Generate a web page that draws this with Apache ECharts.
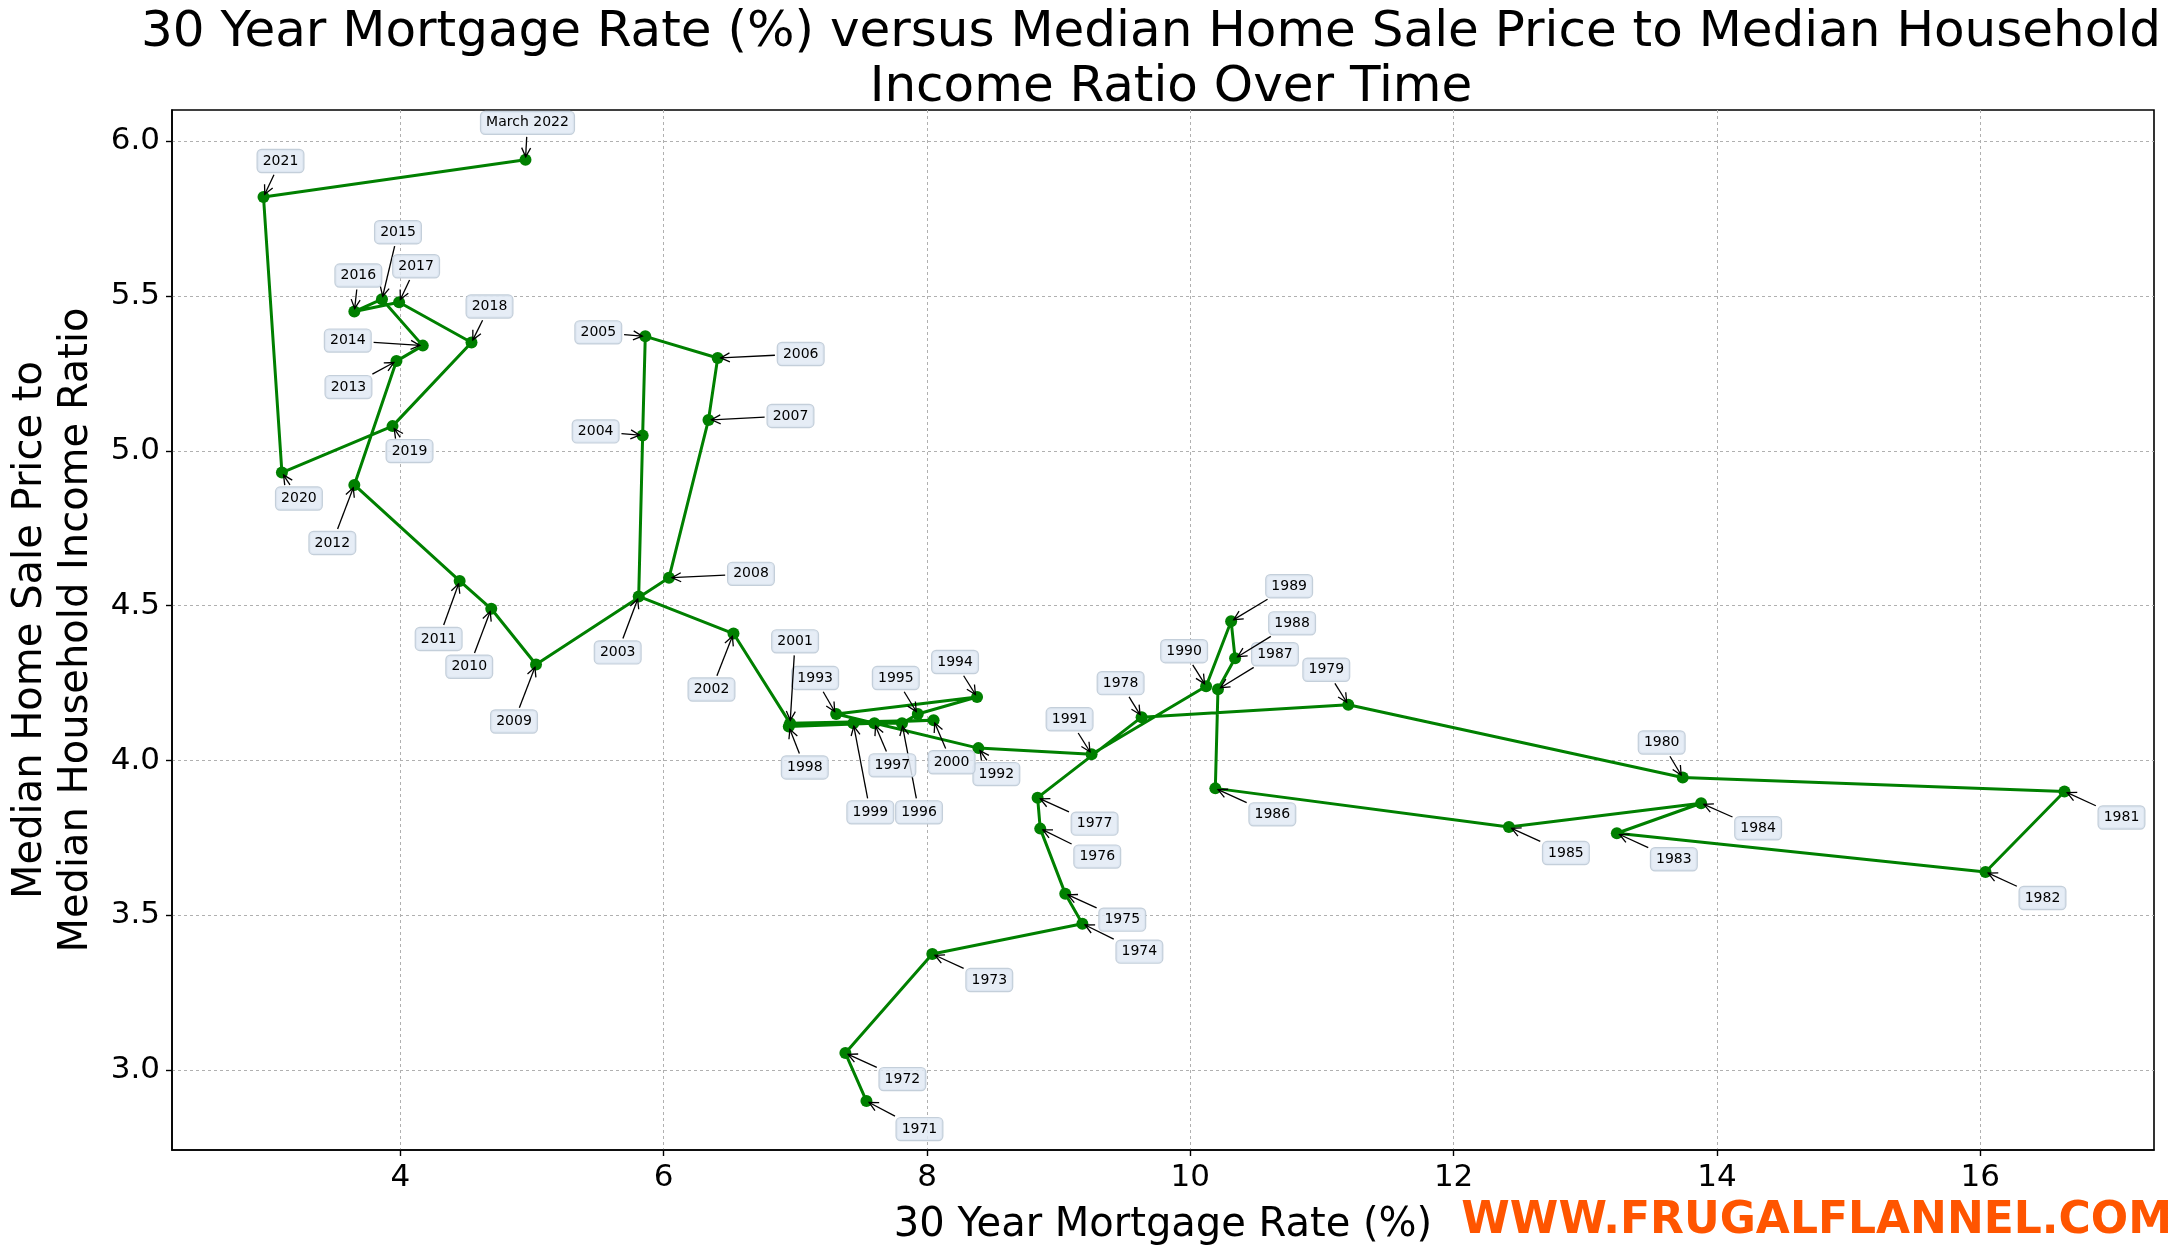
<!DOCTYPE html>
<html>
<head>
<meta charset="utf-8">
<script src="https://cdn.jsdelivr.net/npm/echarts@6/dist/echarts.min.js"></script>
<style>
  html, body { margin: 0; padding: 0; background: #fff; }
  #main { width: 2176px; height: 1248px; }
</style>
</head>
<body>
<div id="main"></div>
<script>
// year labels, in chronological order
var years = ['1971', '1972', '1973', '1974', '1975', '1976', '1977', '1978', '1979', '1980',
  '1981', '1982', '1983', '1984', '1985', '1986', '1987', '1988', '1989', '1990',
  '1991', '1992', '1993', '1994', '1995', '1996', '1997', '1998', '1999', '2000',
  '2001', '2002', '2003', '2004', '2005', '2006', '2007', '2008', '2009', '2010',
  '2011', '2012', '2013', '2014', '2015', '2016', '2017', '2018', '2019', '2020',
  '2021', 'March 2022'];

// 30 year mortgage rate (%)
var rate = [7.54, 7.38, 8.04, 9.18, 9.05, 8.86, 8.84, 9.63, 11.20, 13.74,
  16.64, 16.04, 13.24, 13.88, 12.42, 10.19, 10.21, 10.34, 10.31, 10.12,
  9.25, 8.39, 7.31, 8.38, 7.93, 7.81, 7.60, 6.95, 7.44, 8.05,
  6.96, 6.53, 5.81, 5.84, 5.86, 6.41, 6.34, 6.04, 5.03, 4.69,
  4.45, 3.65, 3.97, 4.17, 3.86, 3.65, 3.99, 4.54, 3.94, 3.10,
  2.96, 4.95];

// median home sale price / median household income
var ratio = [2.90, 3.055, 3.375, 3.473, 3.57, 3.78, 3.88, 4.14, 4.18, 3.945,
  3.90, 3.64, 3.765, 3.862, 3.785, 3.91, 4.23, 4.33, 4.45, 4.24,
  4.02, 4.04, 4.15, 4.205, 4.15, 4.12, 4.12, 4.11, 4.12, 4.13,
  4.12, 4.41, 4.53, 5.05, 5.37, 5.30, 5.10, 4.59, 4.31, 4.49,
  4.58, 4.89, 5.29, 5.34, 5.49, 5.45, 5.48, 5.35, 5.08, 4.93,
  5.82, 5.94];

var xTicks = [4, 6, 8, 10, 12, 14, 16];
var yTicks = [3.0, 3.5, 4.0, 4.5, 5.0, 5.5, 6.0];

// where each annotation box sits relative to its point (pixels)
var labelOffset = [[53, 28], [57, 26], [57, 26], [57, 28], [57, 26], [57, 28], [57, 26], [-21, -34], [-22, -35], [-21, -35],
  [57, 26], [57, 26], [57, 26], [57, 25], [57, 26], [57, 26], [57, -35], [57, -35], [58, -35], [-22, -35],
  [-22, -35], [18, 26], [-21, -36], [-22, -35], [-22, -36], [17, 89], [18, 42], [16, 41], [17, 89], [18, 42],
  [5, -82], [-22, 56], [-21, 56], [-47, -4], [-47, -4], [83, -4], [82, -4], [82, -4], [-22, 57], [-22, 58],
  [-21, 58], [-22, 58], [-48, 26], [-75, -5], [16, -67], [4, -36], [17, -36], [18, -36], [17, 25], [17, 26],
  [17, -36], [2, -37]];

var FONT = 'DejaVu Sans';
var green = '#008000';

var points = [];
for (var i = 0; i < rate.length; i++) {
  points.push([rate[i], ratio[i], i]);
}

var measure = document.createElement('canvas').getContext('2d');
measure.font = '14px "' + FONT + '"';

// annotation: boxed year label with an arrow pointing at the marker
function renderNote(params, api) {
  var i = api.value(2);
  var p = api.coord([api.value(0), api.value(1)]);
  var off = labelOffset[i];
  var cx = p[0] + off[0], cy = p[1] + off[1];
  var hw = measure.measureText(years[i]).width / 2 + 6;
  var hh = 12;
  var vx = p[0] - cx, vy = p[1] - cy;
  var len = Math.sqrt(vx * vx + vy * vy);
  var ux = vx / len, uy = vy / len;
  var t = Math.min(Math.abs(vx) > 1e-6 ? hw / Math.abs(vx) : 1e9, Math.abs(vy) > 1e-6 ? hh / Math.abs(vy) : 1e9);
  var sx = cx + vx * t + ux * 2, sy = cy + vy * t + uy * 2;
  var ex = p[0] - ux * 3, ey = p[1] - uy * 3;
  var hl = 9, hwid = 4.5;
  var bx = ex - ux * hl, by = ey - uy * hl;
  var children = [];
  if (t < 1) {
    children.push({
      type: 'line',
      shape: { x1: sx, y1: sy, x2: ex, y2: ey },
      style: { stroke: '#000', lineWidth: 1.3 }
    });
    children.push({
      type: 'polyline',
      shape: { points: [[bx - uy * hwid, by + ux * hwid], [ex, ey], [bx + uy * hwid, by - ux * hwid]] },
      style: { stroke: '#000', lineWidth: 1.3, fill: null }
    });
  }
  children.push({
    type: 'text',
    x: cx,
    y: cy,
    style: {
      text: years[i],
      font: '14px "' + FONT + '"',
      fill: '#000',
      align: 'center',
      verticalAlign: 'middle',
      backgroundColor: 'rgba(226,234,244,0.85)',
      borderColor: 'rgba(190,202,214,0.9)',
      borderWidth: 1.2,
      borderRadius: 4,
      padding: [5, 5, 3, 5]
    }
  });
  return { type: 'group', children: children };
}

var chart = echarts.init(document.getElementById('main'), null, { renderer: 'canvas' });

var titleStyle = { fontFamily: FONT, fontSize: 50, fontWeight: 'normal', color: '#000', lineHeight: 55 };

var option = {
  backgroundColor: '#fff',
  animation: false,
  textStyle: { fontFamily: FONT },
  title: [
    {
      text: '30 Year Mortgage Rate (%) versus Median Home Sale Price to Median Household',
      left: 1146,
      top: 1,
      textAlign: 'center',
      textStyle: titleStyle
    },
    {
      text: 'Income Ratio Over Time',
      left: 1166,
      top: 56,
      textAlign: 'center',
      textStyle: titleStyle
    }
  ],
  grid: {
    left: 172, right: 22, top: 110, bottom: 98,
    outerBoundsMode: 'none',
    show: true, borderColor: '#000', borderWidth: 1.6, backgroundColor: 'transparent'
  },
  xAxis: {
    type: 'value',
    min: 2.265,
    max: 17.32,
    name: '30 Year Mortgage Rate (%)',
    nameLocation: 'middle',
    nameGap: 56,
    nameTextStyle: { fontFamily: FONT, fontSize: 40, color: '#000' },
    axisLine: { show: true, onZero: false, lineStyle: { color: '#000', width: 1.6 } },
    axisTick: { show: true, customValues: xTicks, length: 6, lineStyle: { color: '#000', width: 1.4 } },
    axisLabel: { customValues: xTicks, fontFamily: FONT, fontSize: 31, color: '#000', margin: 12 },
    splitLine: { show: true, lineStyle: { color: '#b0b0b0', type: [3, 3], width: 1 } }
  },
  yAxis: {
    type: 'value',
    min: 2.742,
    max: 6.101,
    name: 'Median Home Sale Price to\nMedian Household Income Ratio',
    nameLocation: 'middle',
    nameGap: 72,
    nameRotate: 90,
    nameTextStyle: { fontFamily: FONT, fontSize: 40, color: '#000', lineHeight: 46 },
    axisLine: { show: true, onZero: false, lineStyle: { color: '#000', width: 1.6 } },
    axisTick: { show: true, customValues: yTicks, length: 6, lineStyle: { color: '#000', width: 1.4 } },
    axisLabel: {
      customValues: yTicks, fontFamily: FONT, fontSize: 31, color: '#000', margin: 12,
      formatter: function (v) { return v.toFixed(1); }
    },
    splitLine: { show: true, lineStyle: { color: '#b0b0b0', type: [3, 3], width: 1 } }
  },
  graphic: [{
    type: 'text',
    right: 4,
    bottom: 4,
    style: {
      text: 'WWW.FRUGALFLANNEL.COM',
      font: 'bold 44px "' + FONT + '"',
      fill: '#ff5500'
    }
  }],
  series: [
    {
      type: 'line',
      data: points,
      symbol: 'circle',
      symbolSize: 12,
      itemStyle: { color: green },
      lineStyle: { color: green, width: 3 },
      z: 2
    },
    {
      type: 'custom',
      data: points,
      encode: { x: 0, y: 1 },
      renderItem: renderNote,
      clip: false,
      z: 5
    }
  ]
};

chart.setOption(option);
</script>
</body>
</html>
